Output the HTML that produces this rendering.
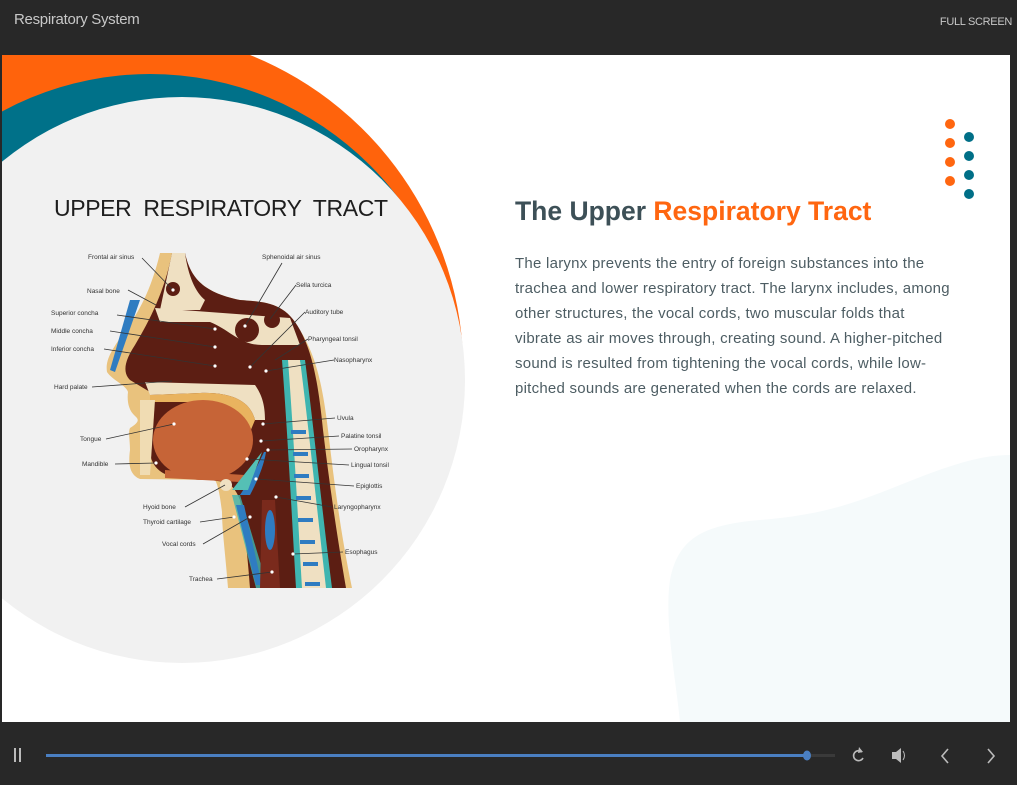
<!DOCTYPE html>
<html><head><meta charset="utf-8"><style>
html,body{margin:0;padding:0;background:#282828;width:1017px;height:785px;overflow:hidden;font-family:"Liberation Sans",sans-serif}
.hdr{position:absolute;left:14px;top:11px;color:#c8c8c8;font-size:15px;letter-spacing:-0.3px}
.fs{position:absolute;right:5px;top:16px;color:#c8c8c8;font-size:11px;letter-spacing:-0.3px}
.slide{position:absolute;left:2px;top:55px;width:1008px;height:667px;background:#fff;overflow:hidden}
.title{position:absolute;left:515px;top:196px;font-size:26.5px;font-weight:bold;color:#3d5057;white-space:nowrap;letter-spacing:0px}
.title span{color:#ff6610}
.para{position:absolute;left:515px;top:251px;font-size:15px;line-height:25px;color:#4d5d63;white-space:nowrap;letter-spacing:0.25px}
</style></head><body>
<div class="hdr">Respiratory System</div>
<div class="fs">FULL SCREEN</div>
<div class="slide"></div>
<svg width="1017" height="785" style="position:absolute;left:0;top:0">
<defs>
<clipPath id="sc"><rect x="2" y="55" width="1008" height="667"/></clipPath>
<clipPath id="ct"><polygon points="2,55 1010,55 1010,440 300,440 2,175"/></clipPath>
</defs>
<g clip-path="url(#sc)">
<path d="M680 722 C676 680 664 620 670 580 C678 540 700 525 760 520 C820 515 850 505 900 485 C950 465 980 455 1010 455 L1010 722 Z" fill="#f5fafb"/>
<path d="M2 55 L250 55 A 340 340 0 0 1 463 385 L2 385 Z" fill="#ff630c"/>
<circle cx="150" cy="385" r="311" fill="#007189" clip-path="url(#ct)"/>
<circle cx="182" cy="380" r="283" fill="#f1f1f1"/>
</g>
<text x="54" y="216" font-size="23" fill="#1e1e1e" textLength="334" lengthAdjust="spacing" font-family="Liberation Sans" xml:space="preserve">UPPER  RESPIRATORY  TRACT</text>
<!-- anatomy -->
<path d="M160 253 L185 253 C190 275 200 292 240 300 C265 302 285 302 300 330 C315 355 322 380 328 430 C334 480 340 530 352 588 L228 588 C226 560 222 530 222 512 C220 495 218 485 215 480 L140 479 C130 475 128 465 130 450 C130 440 128 432 130 428 C138 423 140 420 135 416 C128 410 127 400 128 392 C126 385 112 380 107 372 C105 360 112 350 122 335 C135 318 150 295 160 253 Z" fill="#e9c27d"/>
<path d="M172 253 L185 253 C190 275 200 292 240 300 C265 302 285 302 300 330 C312 352 318 380 323 430 C329 480 336 530 346 588 L250 588 C248 560 244 520 240 500 C236 490 232 485 225 482 L165 474 C152 468 148 455 150 440 L150 392 L130 380 C122 372 125 360 135 345 C150 320 165 290 172 253 Z" fill="#5c1e13"/>
<path d="M172 253 L185 253 C188 275 195 292 205 300 L200 310 L160 310 Z" fill="#efe0c2"/>
<path d="M155 308 L290 318 L300 345 L262 345 C240 345 230 330 210 322 L160 322 Z" fill="#efe0c2"/>
<ellipse cx="247" cy="330" rx="12" ry="12" fill="#5c1e13"/>
<ellipse cx="272" cy="320" rx="8" ry="8" fill="#5c1e13"/>
<path d="M145 382 L255 385 C262 395 265 405 265 420 L255 420 C250 400 230 392 200 393 L150 395 Z" fill="#efe0c2"/>
<path d="M150 395 L200 393 C230 392 250 400 255 420 L250 432 C240 410 220 400 195 402 L150 402 Z" fill="#e9b35f"/>
<ellipse cx="203" cy="440" rx="50" ry="40" fill="#c66437"/>
<path d="M165 470 L245 475 L240 482 L165 478 Z" fill="#c66437"/>
<path d="M140 400 L155 400 L150 475 L140 475 Z" fill="#f0dcb3"/>
<path d="M286 360 L300 360 C310 400 318 470 330 588 L300 588 C295 520 292 440 286 360 Z" fill="#efe0c2"/>
<path d="M282 360 L288 360 C294 440 298 520 302 588 L296 588 C292 520 288 440 282 360 Z" fill="#3fb5b0"/>
<path d="M300 360 L305 360 C314 430 322 510 332 588 L326 588 C317 510 309 430 300 360 Z" fill="#3fb5b0"/>
<g fill="#2f7cc1"><rect x="291" y="430" width="15" height="4"/><rect x="293" y="452" width="15" height="4"/><rect x="294" y="474" width="15" height="4"/><rect x="296" y="496" width="15" height="4"/><rect x="298" y="518" width="15" height="4"/><rect x="300" y="540" width="15" height="4"/><rect x="303" y="562" width="15" height="4"/><rect x="305" y="582" width="15" height="4"/></g>
<path d="M264 452 C258 465 250 480 240 495 L250 495 C258 480 264 465 266 452 Z" fill="#2f7cc1"/>
<path d="M232 490 L248 490 L262 452 Z" fill="#55c0b5"/>
<path d="M232 495 L240 495 L268 588 L256 588 Z" fill="#3fb5b0" opacity=".8"/>
<path d="M236 505 L244 505 L262 585 L256 585 Z" fill="#2f7cc1"/>
<path d="M262 500 L275 500 L280 588 L260 588 Z" fill="#7a2a1c"/>
<ellipse cx="270" cy="530" rx="5" ry="20" fill="#2f7cc1"/>
<path d="M130 300 L140 300 L115 372 L110 370 Z" fill="#2f7cc1"/>
<circle cx="226" cy="485" r="6" fill="#efe0c2"/>
<circle cx="173" cy="289" r="7" fill="#5c1e13"/>
<!-- labels -->
<g font-size="6.5" fill="#333" font-family="Liberation Sans">
<text x="88" y="259">Frontal air sinus</text>
<text x="87" y="293">Nasal bone</text>
<text x="51" y="315">Superior concha</text>
<text x="51" y="333">Middle concha</text>
<text x="51" y="351">Inferior concha</text>
<text x="54" y="389">Hard palate</text>
<text x="80" y="441">Tongue</text>
<text x="82" y="466">Mandible</text>
<text x="143" y="509">Hyoid bone</text>
<text x="143" y="524">Thyroid cartilage</text>
<text x="162" y="546">Vocal cords</text>
<text x="189" y="581">Trachea</text>
<text x="262" y="259">Sphenoidal air sinus</text>
<text x="296" y="287">Sella turcica</text>
<text x="305" y="314">Auditory tube</text>
<text x="308" y="341">Pharyngeal tonsil</text>
<text x="334" y="362">Nasopharynx</text>
<text x="337" y="420">Uvula</text>
<text x="341" y="438">Palatine tonsil</text>
<text x="354" y="451">Oropharynx</text>
<text x="351" y="467">Lingual tonsil</text>
<text x="356" y="488">Epiglottis</text>
<text x="334" y="509">Laryngopharynx</text>
<text x="345" y="554">Esophagus</text>
</g>
<g stroke="#333" stroke-width=".8">
<line x1="142" y1="258" x2="173" y2="290"/><line x1="128" y1="290" x2="156" y2="305"/>
<line x1="117" y1="315" x2="215" y2="329"/><line x1="110" y1="331" x2="215" y2="347"/>
<line x1="104" y1="349" x2="215" y2="366"/><line x1="92" y1="387" x2="172" y2="381"/>
<line x1="106" y1="439" x2="174" y2="424"/><line x1="115" y1="464" x2="156" y2="463"/>
<line x1="185" y1="507" x2="225" y2="485"/><line x1="200" y1="522" x2="234" y2="517"/>
<line x1="203" y1="544" x2="250" y2="517"/><line x1="217" y1="579" x2="272" y2="572"/>
<line x1="282" y1="263" x2="245" y2="326"/><line x1="296" y1="285" x2="270" y2="319"/>
<line x1="305" y1="312" x2="250" y2="367"/><line x1="308" y1="339" x2="275" y2="360"/>
<line x1="334" y1="360" x2="266" y2="371"/><line x1="335" y1="418" x2="263" y2="424"/>
<line x1="339" y1="436" x2="261" y2="441"/><line x1="352" y1="449" x2="268" y2="450"/>
<line x1="349" y1="465" x2="247" y2="459"/><line x1="354" y1="486" x2="256" y2="479"/>
<line x1="332" y1="507" x2="276" y2="497"/><line x1="343" y1="552" x2="293" y2="554"/>
</g>
<g fill="#fff"><circle cx="215" cy="329" r="1.6"/><circle cx="215" cy="347" r="1.6"/><circle cx="215" cy="366" r="1.6"/><circle cx="174" cy="424" r="1.6"/><circle cx="156" cy="463" r="1.6"/><circle cx="234" cy="517" r="1.6"/><circle cx="250" cy="517" r="1.6"/><circle cx="272" cy="572" r="1.6"/><circle cx="245" cy="326" r="1.6"/><circle cx="250" cy="367" r="1.6"/><circle cx="266" cy="371" r="1.6"/><circle cx="263" cy="424" r="1.6"/><circle cx="261" cy="441" r="1.6"/><circle cx="268" cy="450" r="1.6"/><circle cx="247" cy="459" r="1.6"/><circle cx="256" cy="479" r="1.6"/><circle cx="276" cy="497" r="1.6"/><circle cx="293" cy="554" r="1.6"/><circle cx="173" cy="290" r="1.6"/></g>
<!-- dots -->
<g fill="#ff6610"><circle cx="950" cy="124" r="5"/><circle cx="950" cy="143" r="5"/><circle cx="950" cy="162" r="5"/><circle cx="950" cy="181" r="5"/></g>
<g fill="#006f87"><circle cx="969" cy="137" r="5"/><circle cx="969" cy="156" r="5"/><circle cx="969" cy="175" r="5"/><circle cx="969" cy="194" r="5"/></g>
<!-- controls -->
<rect x="14" y="748" width="2" height="14" fill="#bbb"/><rect x="19" y="748" width="2" height="14" fill="#bbb"/>
<rect x="46" y="754" width="789" height="3" fill="#3a3a3a"/>
<rect x="46" y="754" width="761" height="3" fill="#4a7fc2"/>
<ellipse cx="807" cy="755.5" rx="4" ry="5" fill="#4a7fc2"/>
<path d="M862 752 A5 5 0 1 0 863 758" stroke="#bbb" stroke-width="1.6" fill="none"/><path d="M859 747 L863 752 L858 753 Z" fill="#bbb"/>
<path d="M892 752 L896 752 L901 748 L901 763 L896 759 L892 759 Z" fill="#bbb"/><path d="M903 751 Q906 755.5 903 760" stroke="#bbb" fill="none"/>
<path d="M948 749 L942 756 L948 763" stroke="#bbb" stroke-width="1.6" fill="none"/>
<path d="M988 749 L994 756 L988 763" stroke="#bbb" stroke-width="1.6" fill="none"/>
</svg>
<div class="title">The Upper <span>Respiratory Tract</span></div>
<div class="para">The larynx prevents the entry of foreign substances into the<br>trachea and lower respiratory tract. The larynx includes, among<br>other structures, the vocal cords, two muscular folds that<br>vibrate as air moves through, creating sound. A higher-pitched<br>sound is resulted from tightening the vocal cords, while low-<br>pitched sounds are generated when the cords are relaxed.</div>
</body></html>
